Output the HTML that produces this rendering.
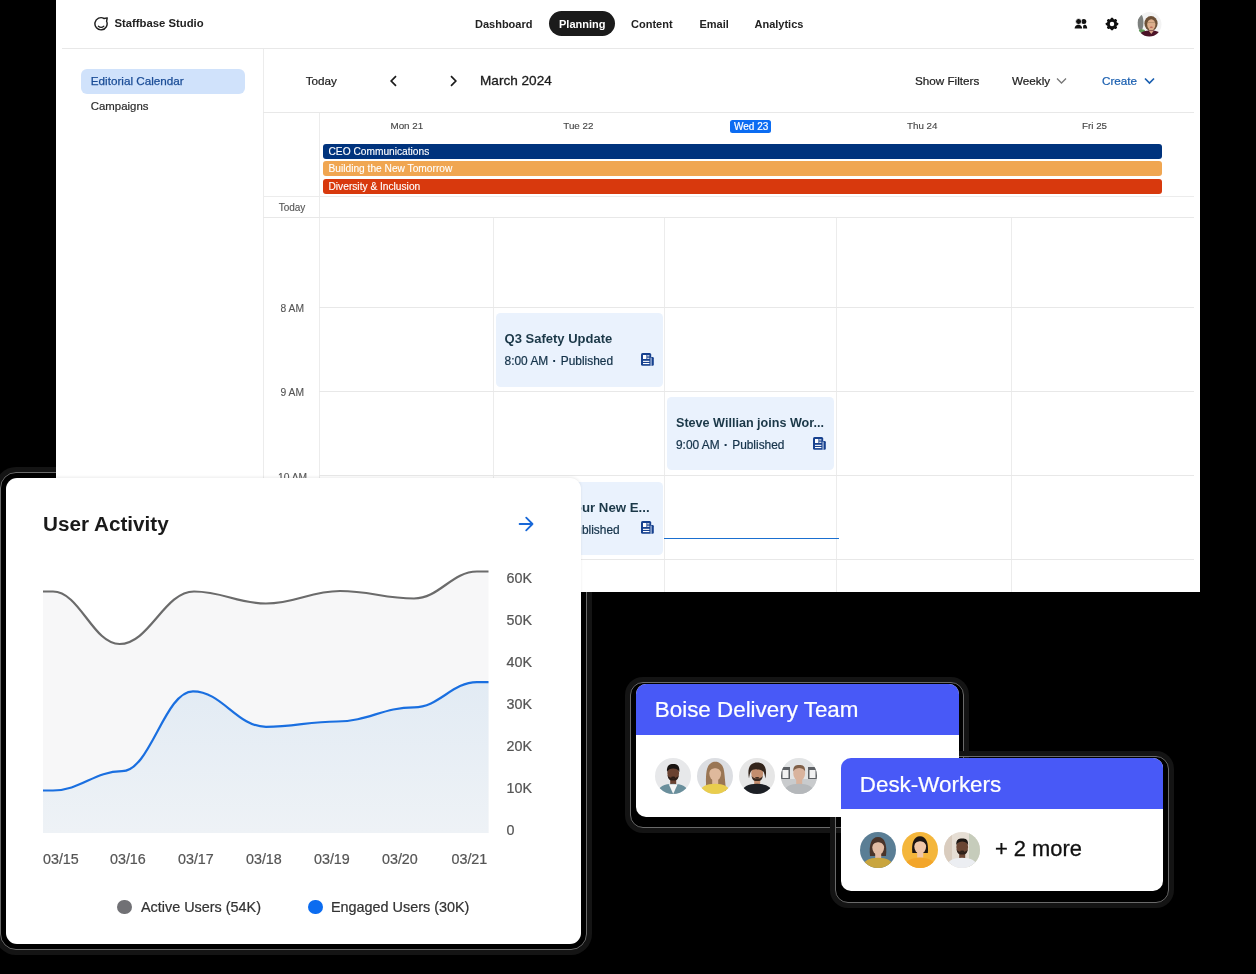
<!DOCTYPE html>
<html><head><meta charset="utf-8">
<style>
*{box-sizing:border-box;margin:0;padding:0}
html,body{width:1256px;height:974px;overflow:hidden;background:#000}
body{position:relative;will-change:transform;font-family:"Liberation Sans",sans-serif;color:#1d1d1f}
.a{position:absolute;white-space:nowrap}
.m{-webkit-text-stroke:0.25px currentColor}
.panel{position:absolute;left:56px;top:0;width:1144px;height:592px;background:#fff;overflow:hidden}
.hl{position:absolute;height:1px;background:#e8e8e8}
.vl{position:absolute;width:1px;background:#ececec}
.nav{font-size:11px;font-weight:700;color:#222;top:17px;line-height:14px}
.tb{-webkit-text-stroke:0.22px currentColor;font-size:11.7px;color:#222;top:74px;line-height:14px}
.day{-webkit-text-stroke:0.12px currentColor;font-size:9.8px;color:#444;top:120px;line-height:12px}
.bar{-webkit-text-stroke:0.12px currentColor;position:absolute;left:322.5px;width:839.5px;height:15px;border-radius:3px;color:#fff;font-size:10.2px;line-height:15px;padding-left:6px}
.tl{-webkit-text-stroke:0.12px currentColor;font-size:10.3px;color:#555;line-height:12px}
.ev{position:absolute;background:#eaf2fd;border-radius:4.5px}
.evt{font-size:13px;font-weight:700;color:#1b3848;line-height:16px}
.evs{-webkit-text-stroke:0.22px currentColor;font-size:11.9px;color:#15334a;line-height:14px}
.yl{-webkit-text-stroke:0.22px currentColor;left:506.5px;font-size:14.3px;line-height:16px;color:#555}
.xl{-webkit-text-stroke:0.22px currentColor;top:851px;font-size:14.3px;line-height:16px;color:#555}
.lg{-webkit-text-stroke:0.22px currentColor;top:898.5px;font-size:14.4px;line-height:16px;color:#333}
.tc{background:#fff;border-radius:10px;overflow:hidden}
.ring{border:1.2px solid #6a6a6a;box-shadow:0 0 0 5px #141414}
.th{-webkit-text-stroke:0.22px currentColor;background:#4859f7;color:#fff;font-size:22.4px;line-height:26px;padding:14px 0 0 18.8px}
</style></head><body>

<!-- shadow rings over black -->
<div class="a ring" style="left:0px;top:472px;width:587px;height:478px;border-radius:16px"></div>
<div class="a ring" style="left:630px;top:681.5px;width:334px;height:146px;border-radius:13px"></div>
<div class="a ring" style="left:835px;top:756px;width:334px;height:147px;border-radius:13px"></div>
<div class="panel"></div>

<!-- header -->
<svg class="a" style="left:94px;top:16px" width="16" height="16" viewBox="0 0 16 16"><path d="M10.1,2.5A6.1,6.1 0 1 0 12.6,5.3L13.2,1.9Z" fill="none" stroke="#1d1d1d" stroke-width="1.45" stroke-linejoin="round"/><path d="M4.4,10.2Q7.1,12.4 9.8,10.2" fill="none" stroke="#1d1d1d" stroke-width="1.3" stroke-linecap="round"/></svg>
<div class="a" style="left:114.5px;top:16.3px;font-size:11.3px;font-weight:700;color:#222;line-height:14px">Staffbase Studio</div>

<div class="a nav" style="left:475px">Dashboard</div>
<div class="a" style="left:549px;top:11px;width:66px;height:25px;border-radius:13px;background:#1b1b1b"></div>
<div class="a nav" style="left:559px;color:#fff">Planning</div>
<div class="a nav" style="left:631px">Content</div>
<div class="a nav" style="left:699.5px">Email</div>
<div class="a nav" style="left:754.5px">Analytics</div>

<div class="hl" style="left:62px;top:48px;width:1132px"></div>

<!-- header icons -->
<svg class="a" style="left:1074px;top:18px" width="14" height="12" viewBox="0 0 14 12"><circle cx="9.8" cy="3.5" r="2.5" fill="#111"/><circle cx="4.6" cy="3.5" r="3.0" fill="#111" stroke="#fff" stroke-width="0.8"/><path d="M9.1,10.6L9.1,8.1C9.4,7.1 10.1,6.7 11,6.7C12.4,6.8 13.2,8.4 13.2,10.6Z" fill="#111"/><path d="M0.6,10.6C0.7,8 2.3,6.7 4.4,6.7S8.1,8 8.2,10.6Z" fill="#111"/></svg><svg class="a" style="left:1105px;top:17px" width="14" height="14" viewBox="0 0 14 14"><circle cx="7" cy="7" r="3.7" fill="none" stroke="#111" stroke-width="2.9"/><rect x="5.7" y="0.8" width="2.6" height="3" rx="0.6" fill="#111" transform="rotate(0 7 7)"/><rect x="5.7" y="0.8" width="2.6" height="3" rx="0.6" fill="#111" transform="rotate(45 7 7)"/><rect x="5.7" y="0.8" width="2.6" height="3" rx="0.6" fill="#111" transform="rotate(90 7 7)"/><rect x="5.7" y="0.8" width="2.6" height="3" rx="0.6" fill="#111" transform="rotate(135 7 7)"/><rect x="5.7" y="0.8" width="2.6" height="3" rx="0.6" fill="#111" transform="rotate(180 7 7)"/><rect x="5.7" y="0.8" width="2.6" height="3" rx="0.6" fill="#111" transform="rotate(225 7 7)"/><rect x="5.7" y="0.8" width="2.6" height="3" rx="0.6" fill="#111" transform="rotate(270 7 7)"/><rect x="5.7" y="0.8" width="2.6" height="3" rx="0.6" fill="#111" transform="rotate(315 7 7)"/></svg>
<svg class="a" style="left:1137px;top:11.8px" width="25" height="25" viewBox="0 0 25 25"><defs><clipPath id="av0"><circle cx="12.3" cy="12.3" r="12.2"/></clipPath></defs><g clip-path="url(#av0)"><rect width="25" height="25" fill="#f3f3f3"/><ellipse cx="3.6" cy="10.5" rx="2.9" ry="8" fill="#7d807e"/><ellipse cx="4.8" cy="19" rx="3.2" ry="1.7" fill="#5c9a55"/><ellipse cx="14" cy="11.5" rx="6.6" ry="7.4" fill="#6c5037"/><rect x="12" y="15" width="4.5" height="6" fill="#d9ab8a"/><ellipse cx="14.3" cy="12.6" rx="4.1" ry="5.3" fill="#dcae8c"/><rect x="10.5" y="10.2" width="7.6" height="0.8" fill="#a08060" opacity="0.7"/><ellipse cx="14.3" cy="15.3" rx="1.6" ry="0.7" fill="#bf6656"/><path d="M0.5,25C1.5,20.5 7.5,18.6 14,18.6S24.5,20.5 25.5,25Z" fill="#4b1327"/><path d="M12,19L14.3,22L16.6,19Z" fill="#d9a58a"/></g></svg>

<!-- sidebar -->
<div class="vl" style="left:263px;top:49px;height:543px"></div>
<div class="a" style="left:81px;top:69px;width:164px;height:25px;border-radius:6px;background:#d0e2fb"></div>
<div class="a" style="left:90.8px;top:74px;font-size:11.7px;line-height:14px;color:#1a4c96;-webkit-text-stroke:0.25px currentColor">Editorial Calendar</div>
<div class="a" style="left:90.8px;top:99px;font-size:11.4px;line-height:14px;color:#2a2a2a;-webkit-text-stroke:0.2px currentColor">Campaigns</div>

<!-- toolbar -->
<div class="a tb" style="left:305.7px">Today</div>
<svg class="a" style="left:389px;top:75px" width="9" height="12" viewBox="0 0 9 12"><path d="M7 1.2L2.2 6L7 10.8" fill="none" stroke="#1b1b1b" stroke-width="1.7"/></svg>
<svg class="a" style="left:449px;top:75px" width="9" height="12" viewBox="0 0 9 12"><path d="M2 1.2L6.8 6L2 10.8" fill="none" stroke="#1b1b1b" stroke-width="1.7"/></svg>
<div class="a" style="left:480px;top:73px;font-size:13.6px;line-height:16px;color:#1b1b1b;-webkit-text-stroke:0.3px currentColor">March 2024</div>
<div class="a tb" style="left:915px">Show Filters</div>
<div class="a tb" style="left:1012px">Weekly</div>
<svg class="a" style="left:1056px;top:77px" width="11" height="8" viewBox="0 0 11 8"><path d="M1 1.5L5.5 6L10 1.5" fill="none" stroke="#777" stroke-width="1.3"/></svg>
<div class="a tb" style="left:1102px;color:#1a5fb0">Create</div>
<svg class="a" style="left:1143.5px;top:77px" width="11" height="8" viewBox="0 0 11 8"><path d="M1 1.5L5.5 6L10 1.5" fill="none" stroke="#1a5fb0" stroke-width="1.7"/></svg>
<div class="hl" style="left:263px;top:112px;width:931px"></div>

<!-- calendar grid -->
<div class="vl" style="left:319px;top:113px;height:479px"></div>
<div class="hl" style="left:263px;top:196px;width:931px;background:#ececec"></div>
<div class="hl" style="left:263px;top:217px;width:931px"></div>
<div class="vl" style="left:493px;top:218px;height:374px"></div>
<div class="vl" style="left:664px;top:218px;height:374px"></div>
<div class="vl" style="left:836px;top:218px;height:374px"></div>
<div class="vl" style="left:1011px;top:218px;height:374px"></div>
<div class="hl" style="left:319px;top:307px;width:875px"></div>
<div class="hl" style="left:319px;top:391px;width:875px"></div>
<div class="hl" style="left:319px;top:475px;width:875px"></div>
<div class="hl" style="left:319px;top:559px;width:875px"></div>

<div class="a day" style="left:390.5px">Mon 21</div>
<div class="a day" style="left:563.3px">Tue 22</div>
<div class="a" style="left:730px;top:120.2px;width:41px;height:12.6px;border-radius:2.5px;background:#0b6cf2"></div>
<div class="a day" style="left:734px;top:121.1px;color:#fff;font-size:10px;-webkit-text-stroke:0.2px #fff">Wed 23</div>
<div class="a day" style="left:907px">Thu 24</div>
<div class="a day" style="left:1082px">Fri 25</div>

<div class="bar" style="top:144px;background:#00337d">CEO Communications</div>
<div class="bar" style="top:161px;background:#f0a651">Building the New Tomorrow</div>
<div class="bar" style="top:179px;background:#d8390d">Diversity &amp; Inclusion</div>

<div class="a tl" style="left:278.7px;top:201.5px;font-size:10px">Today</div>
<div class="a tl" style="left:280.5px;top:303px">8 AM</div>
<div class="a tl" style="left:280.5px;top:387px">9 AM</div>
<div class="a tl" style="left:278px;top:471.5px">10 AM</div>

<!-- events -->
<div class="ev" style="left:496px;top:312.5px;width:167px;height:74px"></div>
<div class="a evt" style="left:504.6px;top:331px">Q3 Safety Update</div>
<div class="a evs" style="left:504.6px;top:354px">8:00 AM <b style="font-weight:700;padding:0 1px">·</b> Published</div>
<div class="ev" style="left:667px;top:397px;width:167px;height:73px"></div>
<div class="a evt" style="left:676px;top:415px;font-size:12.6px">Steve Willian joins Wor...</div>
<div class="a evs" style="left:676px;top:438px">9:00 AM <b style="font-weight:700;padding:0 1px">·</b> Published</div>
<div class="ev" style="left:496px;top:481.5px;width:167px;height:73px"></div>
<div class="a evt" style="left:504.6px;top:500px;font-size:13.25px">Welcome Your New E...</div>
<div class="a evs" style="left:504.6px;top:523px">10:00 AM <b style="font-weight:700;padding:0 1px">·</b> Published</div>
<svg class="a" style="left:641px;top:352.5px" width="13" height="13" viewBox="0 0 13 13"><rect x="9" y="4" width="3.8" height="8.8" rx="1.2" fill="#17418f"/><rect x="0" y="0" width="10.2" height="12.8" rx="1.6" fill="#17418f"/><rect x="9.6" y="4.6" width="0.9" height="8.2" fill="#eaf2fd"/><rect x="2" y="2" width="3.4" height="4" fill="#fff"/><rect x="6.2" y="2.3" width="2.2" height="1.1" fill="#fff"/><rect x="6.2" y="4.7" width="2.2" height="1.1" fill="#fff"/><rect x="2" y="7.8" width="6.4" height="1.1" fill="#fff"/><rect x="2" y="10" width="6.4" height="1.1" fill="#fff"/></svg>
<svg class="a" style="left:812.5px;top:436.5px" width="13" height="13" viewBox="0 0 13 13"><rect x="9" y="4" width="3.8" height="8.8" rx="1.2" fill="#17418f"/><rect x="0" y="0" width="10.2" height="12.8" rx="1.6" fill="#17418f"/><rect x="9.6" y="4.6" width="0.9" height="8.2" fill="#eaf2fd"/><rect x="2" y="2" width="3.4" height="4" fill="#fff"/><rect x="6.2" y="2.3" width="2.2" height="1.1" fill="#fff"/><rect x="6.2" y="4.7" width="2.2" height="1.1" fill="#fff"/><rect x="2" y="7.8" width="6.4" height="1.1" fill="#fff"/><rect x="2" y="10" width="6.4" height="1.1" fill="#fff"/></svg>
<svg class="a" style="left:641px;top:521px" width="13" height="13" viewBox="0 0 13 13"><rect x="9" y="4" width="3.8" height="8.8" rx="1.2" fill="#17418f"/><rect x="0" y="0" width="10.2" height="12.8" rx="1.6" fill="#17418f"/><rect x="9.6" y="4.6" width="0.9" height="8.2" fill="#eaf2fd"/><rect x="2" y="2" width="3.4" height="4" fill="#fff"/><rect x="6.2" y="2.3" width="2.2" height="1.1" fill="#fff"/><rect x="6.2" y="4.7" width="2.2" height="1.1" fill="#fff"/><rect x="2" y="7.8" width="6.4" height="1.1" fill="#fff"/><rect x="2" y="10" width="6.4" height="1.1" fill="#fff"/></svg>
<div class="a" style="left:664px;top:537.5px;width:175px;height:1.5px;background:#1a6fd0"></div>


<!-- user activity card -->
<div class="a" style="left:6px;top:478px;width:575px;height:466px;border-radius:11px;background:#fff;box-shadow:0 -1px 3px rgba(0,0,0,0.08)"></div>
<div class="a" style="left:43px;top:512px;font-size:20.7px;font-weight:700;line-height:24px;color:#1a1a1a">User Activity</div>
<svg class="a" style="left:517px;top:516px" width="18" height="16" viewBox="0 0 18 16"><path d="M2.6 8H15.5M9.2 1.6L15.5 8L9.2 14.4" fill="none" stroke="#1868d8" stroke-width="1.8" stroke-linecap="round" stroke-linejoin="round"/></svg>
<svg class="a" style="left:0;top:0" width="1256" height="974" viewBox="0 0 1256 974">
<defs><linearGradient id="bg1" x1="0" y1="0" x2="0" y2="1"><stop offset="0" stop-color="#e2ebf4"/><stop offset="1" stop-color="#eef2f6"/></linearGradient></defs>
<path d="M43.0,591.5C47.0,591.5 49.0,591.5 53.0,591.5C79.6,591.5 93.0,644.0 119.6,644.0C149.4,644.0 164.2,591.5 194.0,591.5C222.8,591.5 237.2,603.5 266.0,603.5C295.6,603.5 310.4,591.0 340.0,591.0C369.6,591.0 384.4,598.5 414.0,598.5C439.2,598.5 451.8,571.5 477.0,571.5C481.6,571.5 483.9,571.5 488.5,571.5L488.5,833L43,833Z" fill="#f7f7f8"/>
<path d="M43.0,790.5C47.0,790.5 49.0,790.5 53.0,790.5C80.6,790.5 94.4,771.2 122.0,771.2C150.4,771.2 164.6,691.3 193.0,691.3C222.2,691.3 236.8,726.8 266.0,726.8C294.4,726.8 308.6,721.5 337.0,721.5C367.8,721.5 383.2,707.3 414.0,707.3C439.2,707.3 451.8,682.2 477.0,682.2C481.6,682.2 483.9,682.2 488.5,682.2L488.5,833L43,833Z" fill="url(#bg1)"/>
<path d="M43.0,591.5C47.0,591.5 49.0,591.5 53.0,591.5C79.6,591.5 93.0,644.0 119.6,644.0C149.4,644.0 164.2,591.5 194.0,591.5C222.8,591.5 237.2,603.5 266.0,603.5C295.6,603.5 310.4,591.0 340.0,591.0C369.6,591.0 384.4,598.5 414.0,598.5C439.2,598.5 451.8,571.5 477.0,571.5C481.6,571.5 483.9,571.5 488.5,571.5" fill="none" stroke="#6b6b6b" stroke-width="2.2"/>
<path d="M43.0,790.5C47.0,790.5 49.0,790.5 53.0,790.5C80.6,790.5 94.4,771.2 122.0,771.2C150.4,771.2 164.6,691.3 193.0,691.3C222.2,691.3 236.8,726.8 266.0,726.8C294.4,726.8 308.6,721.5 337.0,721.5C367.8,721.5 383.2,707.3 414.0,707.3C439.2,707.3 451.8,682.2 477.0,682.2C481.6,682.2 483.9,682.2 488.5,682.2" fill="none" stroke="#1a6fe0" stroke-width="2.2"/>
</svg>
<div class="a yl" style="top:569.5px">60K</div>
<div class="a yl" style="top:611.5px">50K</div>
<div class="a yl" style="top:653.5px">40K</div>
<div class="a yl" style="top:695.5px">30K</div>
<div class="a yl" style="top:737.5px">20K</div>
<div class="a yl" style="top:779.5px">10K</div>
<div class="a yl" style="top:821.5px">0</div>
<div class="a xl" style="left:43px">03/15</div>
<div class="a xl" style="left:110px">03/16</div>
<div class="a xl" style="left:178px">03/17</div>
<div class="a xl" style="left:246px">03/18</div>
<div class="a xl" style="left:314px">03/19</div>
<div class="a xl" style="left:382px">03/20</div>
<div class="a xl" style="left:451.5px">03/21</div>
<div class="a" style="left:117px;top:899.5px;width:14.5px;height:14.5px;border-radius:50%;background:#717175"></div>
<div class="a lg" style="left:141px">Active Users (54K)</div>
<div class="a" style="left:308px;top:899.5px;width:14.5px;height:14.5px;border-radius:50%;background:#0b6cf0"></div>
<div class="a lg" style="left:331px">Engaged Users (30K)</div>

<!-- team cards -->
<div class="a tc" style="left:636px;top:684px;width:322.5px;height:133px">
  <div class="th" style="height:50.7px;padding-top:13px">Boise Delivery Team</div>
</div>
<div class="a tc" style="left:841px;top:758px;width:322px;height:133px">
  <div class="th" style="height:51px">Desk-Workers</div>
</div>
<div class="a" style="left:995px;top:836px;font-size:21.9px;line-height:26px;color:#111;-webkit-text-stroke:0.3px currentColor">+ 2 more</div>
<!-- avatars -->
<svg class="a" style="left:655px;top:758px" width="36" height="36" viewBox="0 0 36 36"><defs><clipPath id="c1"><circle cx="18" cy="18" r="18"/></clipPath></defs><g clip-path="url(#c1)"><rect width="36" height="36" fill="#e7e8ea"/><rect x="15.2" y="18" width="6" height="8" fill="#6a4231"/><path d="M2,36C3,28.5 9.5,25.8 18,25.8S33,28.5 34,36Z" fill="#6a8f9c"/><path d="M13.8,26.2L18.2,36L22.6,26.2Z" fill="#f6f6f6"/><ellipse cx="18.2" cy="15" rx="5.9" ry="7.3" fill="#6a4231"/><path d="M12.6,17C13,22 15.5,22.6 18.2,22.6S23.4,22 23.8,17C22.5,21.2 14,21.2 12.6,17Z" fill="#2a1c16"/><ellipse cx="18.2" cy="19.3" rx="2.2" ry="0.9" fill="#2a1c16"/><path d="M12,14C11.5,7.4 14.5,6.1000000000000005 18.2,6.1000000000000005S24.9,7.4 24.4,14C23.5,11.4 21,10.4 18.2,10.4S13,11.4 12,14Z" fill="#1a1411"/></g></svg>
<svg class="a" style="left:697px;top:758px" width="36" height="36" viewBox="0 0 36 36"><defs><clipPath id="c2"><circle cx="18" cy="18" r="18"/></clipPath></defs><g clip-path="url(#c2)"><rect width="36" height="36" fill="#dcdee2"/><path d="M9.5,33C8.5,24 8.8,15 10.2,10.5C11.8,5.5 15,3.8 18.3,3.8S25,5.5 26.5,10.5C28,16 27.8,25 29.5,33Z" fill="#9a7654"/><rect x="15.2" y="18.5" width="6" height="8" fill="#dfb99c"/><path d="M2,36C3,28.5 9.5,25.8 18,25.8S33,28.5 34,36Z" fill="#e9cd4e"/><ellipse cx="18.2" cy="15.5" rx="5.9" ry="7.3" fill="#dfb99c"/><path d="M12,15.0C11.8,7.9 14.5,6.9 18.2,6.9S24.6,7.9 24.4,15.0C23,10.9 20,10.3 18.2,10.3S13,10.9 12,15.0Z" fill="#9a7654"/></g></svg>
<svg class="a" style="left:739px;top:758px" width="36" height="36" viewBox="0 0 36 36"><defs><clipPath id="c3"><circle cx="18" cy="18" r="18"/></clipPath></defs><g clip-path="url(#c3)"><rect width="36" height="36" fill="#e6e6e6"/><rect x="15.2" y="18.5" width="6" height="8" fill="#c28d6e"/><path d="M2,36C3,28.5 9.5,25.8 18,25.8S33,28.5 34,36Z" fill="#1c1f25"/><ellipse cx="18.2" cy="15.5" rx="5.9" ry="7.3" fill="#c28d6e"/><path d="M12.6,17.5C13,22.5 15.5,23.1 18.2,23.1S23.4,22.5 23.8,17.5C22.5,21.7 14,21.7 12.6,17.5Z" fill="#3b2a20"/><ellipse cx="18.2" cy="19.8" rx="2.2" ry="0.9" fill="#3b2a20"/><path d="M10,20.5C8,9.9 11,4.4 18.2,4.4S28.5,9.9 26.4,20.5C25.2,13.5 24.5,11.9 18.2,11.4S11.2,13.5 10,20.5Z" fill="#33241b"/></g></svg>
<svg class="a" style="left:781px;top:758px" width="36" height="36" viewBox="0 0 36 36"><defs><clipPath id="c4"><circle cx="18" cy="18" r="18"/></clipPath></defs><g clip-path="url(#c4)"><rect width="36" height="36" fill="#e2e4e5"/><rect x="0" y="9" width="9" height="12" fill="#5d6064"/><rect x="1.5" y="12" width="6" height="8" fill="#f2f2f2"/><rect x="27" y="9" width="9" height="12" fill="#5d6064"/><rect x="28.5" y="12" width="6" height="8" fill="#f2f2f2"/><rect x="0" y="21" width="36" height="15" fill="#c9cbcd"/><rect x="15.2" y="18.5" width="6" height="8" fill="#d9b39d"/><path d="M2,36C3,28.5 9.5,25.8 18,25.8S33,28.5 34,36Z" fill="#b5b8bb"/><ellipse cx="18.2" cy="15.5" rx="5.9" ry="7.3" fill="#d9b39d"/><path d="M12.3,13.5C12,7.9 14.5,6.9 18.2,6.9S24.4,7.9 24.1,13.5C23,10.9 20,10.100000000000001 18.2,10.100000000000001S13.4,10.9 12.3,13.5Z" fill="#806048"/></g></svg>
<svg class="a" style="left:859.5px;top:831.5px" width="36" height="36" viewBox="0 0 36 36"><defs><clipPath id="c5"><circle cx="18" cy="18" r="18"/></clipPath></defs><g clip-path="url(#c5)"><rect width="36" height="36" fill="#5a7e95"/><path d="M10,24C8.8,13 11,5 18,5S27.2,13 26,24Z" fill="#4a342a"/><rect x="15.2" y="18.5" width="6" height="8" fill="#e2bca4"/><path d="M2,36C3,28.5 9.5,25.8 18,25.8S33,28.5 34,36Z" fill="#c9a53e"/><ellipse cx="18.2" cy="15.5" rx="5.9" ry="7.3" fill="#e2bca4"/><path d="M12,15.0C11.8,7.9 14.5,6.9 18.2,6.9S24.6,7.9 24.4,15.0C23,10.9 20,10.3 18.2,10.3S13,10.9 12,15.0Z" fill="#4a342a"/></g></svg>
<svg class="a" style="left:901.8px;top:831.5px" width="36" height="36" viewBox="0 0 36 36"><defs><clipPath id="c6"><circle cx="18" cy="18" r="18"/></clipPath></defs><g clip-path="url(#c6)"><rect width="36" height="36" fill="#f4b63b"/><path d="M10.3,21C9.3,11 11.8,4.2 18,4.2S26.8,11 25.8,21Z" fill="#1d1613"/><rect x="15.2" y="17.5" width="6" height="8" fill="#efc6a8"/><path d="M2,36C3,28.5 9.5,25.8 18,25.8S33,28.5 34,36Z" fill="#f3a62b"/><ellipse cx="18.2" cy="14.5" rx="5.9" ry="7.3" fill="#efc6a8"/><path d="M12,14.0C11.8,6.9 14.5,5.9 18.2,5.9S24.6,6.9 24.4,14.0C23,9.9 20,9.3 18.2,9.3S13,9.9 12,14.0Z" fill="#1d1613"/></g></svg>
<svg class="a" style="left:944px;top:831.5px" width="36" height="36" viewBox="0 0 36 36"><defs><clipPath id="c7"><circle cx="18" cy="18" r="18"/></clipPath></defs><g clip-path="url(#c7)"><rect width="36" height="36" fill="#e6ded4"/><rect x="25" y="0" width="11" height="36" fill="#c6ccbb"/><rect x="0" y="0" width="8" height="36" fill="#d9ccbe"/><rect x="15.2" y="18" width="6" height="8" fill="#6a4533"/><path d="M2,36C3,28.5 9.5,25.8 18,25.8S33,28.5 34,36Z" fill="#eceef2"/><ellipse cx="18.2" cy="15" rx="5.9" ry="7.3" fill="#6a4533"/><path d="M12.6,17C13,22 15.5,22.6 18.2,22.6S23.4,22 23.8,17C22.5,21.2 14,21.2 12.6,17Z" fill="#2e2019"/><ellipse cx="18.2" cy="19.3" rx="2.2" ry="0.9" fill="#2e2019"/><path d="M12.3,13C12,7.4 14.5,6.4 18.2,6.4S24.4,7.4 24.1,13C23,10.4 20,9.600000000000001 18.2,9.600000000000001S13.4,10.4 12.3,13Z" fill="#1c1613"/></g></svg>
</body></html>
